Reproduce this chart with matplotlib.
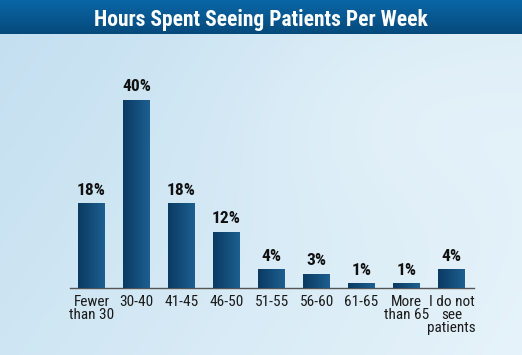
import numpy as np
import matplotlib
matplotlib.use("Agg")
import matplotlib.pyplot as plt
from matplotlib.colors import LinearSegmentedColormap
from matplotlib import font_manager

categories = ["Fewer\nthan 30", "30-40", "41-45", "46-50", "51-55", "56-60", "61-65", "More\nthan 65", "I do not\nsee\npatients"]
values = [18, 40, 18, 12, 4, 3, 1, 1, 4]
title = "Hours Spent Seeing Patients Per Week"

names = {f.name for f in font_manager.fontManager.ttflist}
FONT = ["DejaVu Sans"]
for cand in ["Liberation Sans Narrow", "Roboto Condensed", "Open Sans Condensed"]:
    if cand in names:
        FONT = [cand, "DejaVu Sans"]
        break
STRETCH = "condensed"

W, H = 522, 355
fig = plt.figure(figsize=(W / 100, H / 100), dpi=100)

# background gradient
bg = fig.add_axes([0, 0, 1, 1])
bg.set_axis_off()
yy, xx = np.mgrid[0:1:200j, 0:1:300j]
grad = 0.55 * xx + 0.45 * (1 - yy) * 0.6 + 0.2 * np.exp(-((xx - 0.75) ** 2 + (yy - 0.7) ** 2) / 0.1)
bg_cmap = LinearSegmentedColormap.from_list("bg", ["#c3dff0", "#e6f3fa"])
bg.imshow(grad, cmap=bg_cmap, extent=[0, 1, 0, 1], aspect="auto", origin="lower")
bg.set_xlim(0, 1)
bg.set_ylim(0, 1)

# title banner
ban = fig.add_axes([0, 1 - 34 / H, 1, 34 / H])
ban.set_axis_off()
bcmap = LinearSegmentedColormap.from_list("ban", ["#064a7c", "#0a66a6"])
ban.imshow(np.linspace(0, 1, 50).reshape(-1, 1), cmap=bcmap, extent=[0, 1, 0, 1], aspect="auto", origin="lower")
ban.set_xlim(0, 1)
ban.set_ylim(0, 1)
ban.text(0.5, 0.42, title, ha="center", va="center", color="white",
         fontsize=15.5, fontweight="bold", family=FONT, fontstretch=STRETCH)

# main axes
left, right = 70, 474
bottom_px = 67
top_px = 60
ax = fig.add_axes([left / W, bottom_px / H, (right - left) / W, (H - top_px - bottom_px) / H])
ax.patch.set_alpha(0)
x = np.arange(len(values))
bars = ax.bar(x, values, width=0.6, color="#154b78", zorder=2)
ax.set_xlim(-0.478, 8.5)
ax.set_ylim(0, (H - top_px - bottom_px) / 4.7)

bar_cmap = LinearSegmentedColormap.from_list("bar", ["#0b3a62", "#1d5f90"])
for b in bars:
    x0, w, h = b.get_x(), b.get_width(), b.get_height()
    im = ax.imshow(np.linspace(0, 1, 50).reshape(1, -1), cmap=bar_cmap,
                   extent=[x0, x0 + w, 0, h], aspect="auto", zorder=3)
    im.set_clip_path(b)
    ax.text(b.get_x() + w / 2, h + 1.2, f"{int(h)}%", ha="center", va="bottom",
            fontsize=12.5, fontweight="bold", family=FONT, fontstretch=STRETCH, color="#111111")

ax.set_xticks(x)
ax.set_xticklabels(categories, family=FONT, fontstretch=STRETCH, fontsize=11, color="#1a1a1a",
                   linespacing=0.92, va="top", ha="center", multialignment="center")
ax.tick_params(axis="x", length=0, pad=5)
ax.set_yticks([])
for s in ["top", "right", "left"]:
    ax.spines[s].set_visible(False)
ax.spines["bottom"].set_color("#555555")
ax.spines["bottom"].set_linewidth(1)

fig.savefig("out.png", dpi=100)
